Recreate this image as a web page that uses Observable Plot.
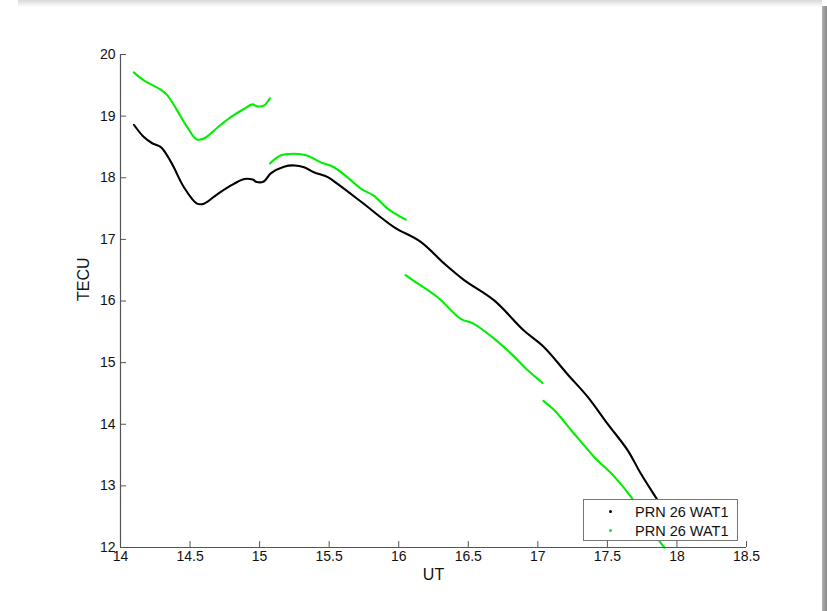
<!DOCTYPE html>
<html>
<head>
<meta charset="utf-8">
<script src="https://cdn.jsdelivr.net/npm/d3@7"></script>
<script src="https://cdn.jsdelivr.net/npm/@observablehq/plot@0.6"></script>
<style>
  html, body { margin: 0; padding: 0; background: #fff; }
  #wrap { position: relative; width: 827px; height: 611px; overflow: hidden; font-family: "Liberation Sans", Arial, sans-serif; }
  #shadowTop { position: absolute; left: 18px; top: 0; width: 804px; height: 7px; background: linear-gradient(#d8d8d8, #ffffff); pointer-events: none; }
  #shadowRight { position: absolute; left: 822px; top: 6px; width: 5px; height: 605px; background: linear-gradient(90deg, #b0b0b0, #8a8a8a); pointer-events: none; }
  #legend { position: absolute; left: 583px; top: 499px; width: 155px; height: 42px; border: 1px solid #777; background: #fff; box-sizing: border-box; }
  .row { position: absolute; left: 0; height: 18px; width: 100%; font-size: 14.5px; color: #111; }
  .row .mk { position: absolute; left: 25px; top: 7px; width: 3px; height: 3px; border-radius: 50%; }
  .row .tx { position: absolute; left: 51px; top: 0; line-height: 18px; white-space: nowrap; }
</style>
</head>
<body>
<div id="wrap"></div>
<script>
// ---- data ----
const xTicks = [14, 14.5, 15, 15.5, 16, 16.5, 17, 17.5, 18, 18.5];
const yTicks = [12, 13, 14, 15, 16, 17, 18, 19, 20];

const blackUT  = [14.096, 14.168, 14.228, 14.288, 14.336, 14.383, 14.455, 14.55, 14.60, 14.70, 14.815, 14.89, 14.95, 14.98, 15.03, 15.08, 15.175, 15.25, 15.32, 15.39, 15.49, 15.56, 15.73, 15.966, 16.158, 16.326, 16.47, 16.686, 16.90, 17.045, 17.21, 17.36, 17.50, 17.645, 17.74, 17.86, 17.95];
const blackTEC = [18.86, 18.66, 18.56, 18.50, 18.36, 18.17, 17.85, 17.58, 17.58, 17.74, 17.90, 17.98, 17.97, 17.93, 17.94, 18.07, 18.18, 18.20, 18.17, 18.09, 18.01, 17.90, 17.61, 17.20, 16.96, 16.61, 16.34, 16.01, 15.52, 15.25, 14.82, 14.44, 14.01, 13.58, 13.20, 12.77, 12.45];

const green1UT  = [14.096, 14.168, 14.288, 14.336, 14.408, 14.48, 14.55, 14.61, 14.70, 14.79, 14.89, 14.95, 14.98, 15.03, 15.074];
const green1TEC = [19.71, 19.58, 19.43, 19.34, 19.09, 18.82, 18.62, 18.65, 18.82, 18.98, 19.12, 19.19, 19.16, 19.17, 19.29];
const green2UT  = [15.074, 15.15, 15.25, 15.34, 15.44, 15.535, 15.63, 15.73, 15.82, 15.92, 16.05];
const green2TEC = [18.23, 18.36, 18.39, 18.36, 18.25, 18.17, 18.01, 17.82, 17.71, 17.50, 17.32];
const green3UT  = [16.05, 16.10, 16.28, 16.446, 16.54, 16.686, 16.806, 16.926, 17.034];
const green3TEC = [16.42, 16.34, 16.06, 15.71, 15.63, 15.39, 15.15, 14.88, 14.67];
const green4UT  = [17.04, 17.117, 17.26, 17.405, 17.55, 17.67, 17.885, 17.91];
const green4TEC = [14.38, 14.23, 13.85, 13.47, 13.15, 12.82, 12.07, 12.00];

const seriesLabels = ["PRN 26 WAT1", "PRN 26 WAT1"];
const seriesColors = ["#000000", "#00ee00"];
const xLabel = "UT";
const yLabel = "TECU";

// ---- build table ----
function seg(ut, tec, id, color) { return ut.map((u, i) => ({ut: u, tec: tec[i], seg: id, color})); }
const rows = [
  ...seg(blackUT, blackTEC, "b", seriesColors[0]),
  ...seg(green1UT, green1TEC, "g1", seriesColors[1]),
  ...seg(green2UT, green2TEC, "g2", seriesColors[1]),
  ...seg(green3UT, green3TEC, "g3", seriesColors[1]),
  ...seg(green4UT, green4TEC, "g4", seriesColors[1])
];

const W = 827, H = 611, mL = 120, mR = 81, mT = 54, mB = 64;
const frameW = W - mL - mR, frameH = H - mT - mB;
const axisColor = "#555";

const chart = Plot.plot({
  width: W, height: H,
  marginLeft: mL, marginRight: mR, marginTop: mT, marginBottom: mB,
  style: { fontFamily: "'Liberation Sans', Arial, sans-serif", fontSize: "14px", color: "#111", background: "transparent" },
  x: { domain: [14, 18.5] },
  y: { domain: [12, 20] },
  marks: [
    Plot.line(rows, { x: "ut", y: "tec", z: "seg", stroke: "color", strokeWidth: 2.1, strokeLinejoin: "round", strokeLinecap: "round", curve: "catmull-rom" }),
    Plot.ruleX([xTicks[0]], { stroke: axisColor, strokeWidth: 1.2 }),
    Plot.ruleY([yTicks[0]], { stroke: axisColor, strokeWidth: 1.2 }),
    Plot.tickX(xTicks, { x: d => d, insetTop: frameH - 6, stroke: axisColor }),
    Plot.tickY(yTicks, { y: d => d, insetRight: frameW - 6, stroke: axisColor }),
    Plot.axisX(xTicks, { tickSize: 0, tickPadding: 4, tickFormat: d => String(d), label: null, fill: "#111" }),
    Plot.axisY(yTicks, { tickSize: 0, tickPadding: 5, tickFormat: d => String(d), label: null, fill: "#111" }),
    Plot.text([xLabel], { frameAnchor: "bottom", dy: 32, fontSize: 16, fill: "#111" }),
    Plot.text([yLabel], { frameAnchor: "left", dx: -37, rotate: -90, fontSize: 16, fill: "#111" })
  ]
});

const wrap = document.getElementById("wrap");
wrap.appendChild(chart);
chart.style.position = "absolute";
chart.style.left = "0px";
chart.style.top = "0px";

const st = document.createElement("div"); st.id = "shadowTop"; wrap.appendChild(st);
const sr = document.createElement("div"); sr.id = "shadowRight"; wrap.appendChild(sr);

const legend = document.createElement("div");
legend.id = "legend";
seriesLabels.forEach((lab, i) => {
  const r = document.createElement("div");
  r.className = "row";
  r.style.top = (3 + i * 18.5) + "px";
  const mk = document.createElement("div"); mk.className = "mk"; mk.style.background = seriesColors[i];
  const tx = document.createElement("div"); tx.className = "tx"; tx.textContent = lab;
  r.appendChild(mk); r.appendChild(tx);
  legend.appendChild(r);
});
wrap.appendChild(legend);
</script>
</body>
</html>
